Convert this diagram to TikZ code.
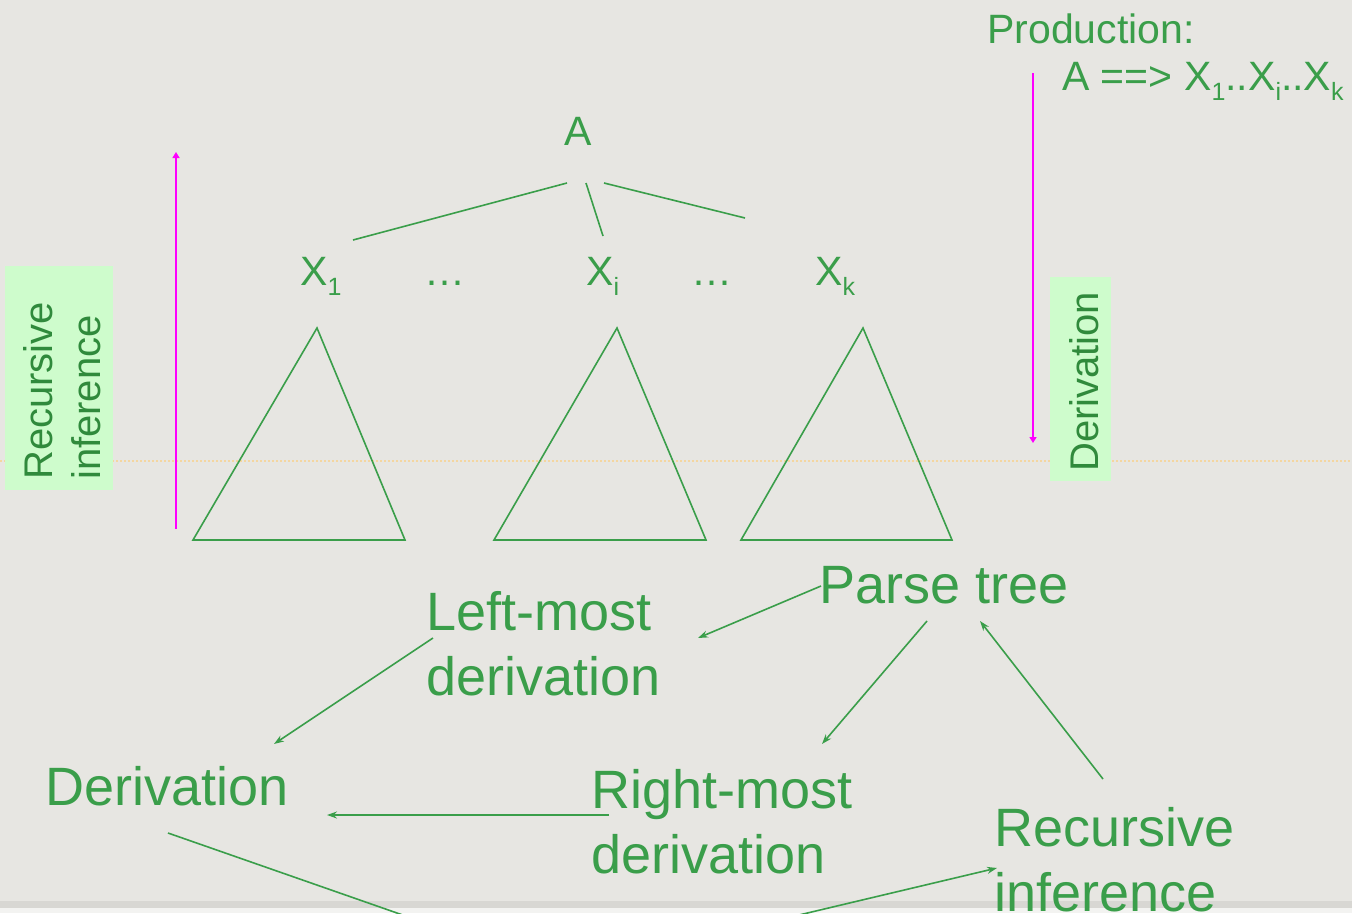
\documentclass[tikz,border=0pt]{standalone}
\usepackage{fontspec}
\setmainfont{Liberation Sans}
\usetikzlibrary{arrows.meta}

\definecolor{slidebg}{RGB}{231,230,226}
\definecolor{leaf}{RGB}{58,158,74}
\definecolor{boxfill}{RGB}{206,252,204}
\definecolor{boxtext}{RGB}{48,138,60}
\definecolor{pinkline}{RGB}{255,0,255}
\definecolor{guideline}{RGB}{244,214,160}
\definecolor{bandgray}{RGB}{216,215,211}
\definecolor{bandlight}{RGB}{243,243,241}

% lowered index such as the 1 in X_1
\newcommand\lowidx[1]{\raisebox{-0.25em}{\fontsize{25}{25}\selectfont #1}}
% two lines, the node baseline being that of the first one
\newcommand\twolines[2]{\vtop{\hbox{#1}\hbox{#2}}}

\tikzset{
  lbl/.style={inner sep=0pt, anchor=base west, text=leaf},
  smalltxt/.style={font=\fontsize{41}{48}\selectfont},
  bigtxt/.style={font=\fontsize{54}{65}\selectfont},
  edge/.style={draw=leaf, line width=1.6pt},
  arr/.style={edge, -{Stealth[length=10pt,width=7pt]}},
  magarr/.style={draw=pinkline, line width=2.4pt, -{Triangle[length=6pt,width=7pt]}},
  sidetxt/.style={inner sep=0pt, anchor=base west, rotate=90, text=boxtext,
                  font=\fontsize{40}{48}\selectfont},
  tri/.style={draw=leaf, line width=1.6pt, line join=miter},
}

\begin{document}
\begin{tikzpicture}[x=1pt,y=-1pt]
\useasboundingbox (0,0) rectangle (1352,913);
\clip (0,0) rectangle (1352,913);

% slide background
\fill[slidebg] (0,0) rectangle (1352,913);
\fill[bandgray] (0,901) rectangle (1352,908);
\fill[bandlight] (0,908) rectangle (1352,913);
\draw[guideline, line width=1.2pt, dash pattern=on 1.5pt off 2.5pt] (0,461) -- (1352,461);

% production rule
\node[lbl, smalltxt] (prod) at (987,43) {Production:};
\node[lbl, smalltxt] (rule) at (1062,90) {A ==> X\lowidx{1}..X\lowidx{i}..X\lowidx{k}};

% tree root and children
\node[lbl, smalltxt, anchor=base] (A) at (578,145) {A};
\node[lbl, smalltxt] (x1) at (300,285) {X\lowidx{1}};
\node[lbl, smalltxt, anchor=base] (dotsL) at (445,285) {…};
\node[lbl, smalltxt] (xi) at (586,285) {X\lowidx{i}};
\node[lbl, smalltxt, anchor=base] (dotsR) at (712,285) {…};
\node[lbl, smalltxt] (xk) at (815,285) {X\lowidx{k}};

\coordinate (rootL) at (567,183);
\coordinate (rootM) at (586,183);
\coordinate (rootR) at (604,183);
\coordinate (toX1) at (353,240);
\coordinate (toXi) at (603,236);
\coordinate (toXk) at (745,218);
\draw[edge] (rootL) -- (toX1);
\draw[edge] (rootM) -- (toXi);
\draw[edge] (rootR) -- (toXk);

% subtrees
\draw[tri] (317,328) -- (405,540) -- (193,540) -- cycle;
\draw[tri] (617,328) -- (706,540) -- (494,540) -- cycle;
\draw[tri] (863,328) -- (952,540) -- (741,540) -- cycle;

% direction markers
\fill[boxfill] (5,266) rectangle (113,490);
\node[sidetxt] (recside) at (52,480) {\twolines{Recursive}{inference}};
\coordinate (upfoot) at (176,529);
\coordinate (uphead) at (176,152);
\draw[magarr] (upfoot) -- (uphead);

\fill[boxfill] (1050,277) rectangle (1111,481);
\node[sidetxt] (derside) at (1098,472) {Derivation};
\coordinate (downtop) at (1033,73);
\coordinate (downhead) at (1033,443);
\draw[magarr] (downtop) -- (downhead);

% relations between the notions
\node[lbl, bigtxt] (parse) at (819,603) {Parse tree};
\node[lbl, bigtxt] (lmost) at (426,630) {\twolines{Left-most}{derivation}};
\node[lbl, bigtxt] (deriv) at (45,805) {Derivation};
\node[lbl, bigtxt] (rmost) at (591,808) {\twolines{Right-most}{derivation}};
\node[lbl, bigtxt] (recinf) at (994,846) {\twolines{Recursive}{inference}};

\coordinate (pt-out1) at (821,586);
\coordinate (lm-in) at (698,638);
\coordinate (pt-out2) at (927,621);
\coordinate (rm-in) at (822,744);
\coordinate (ri-out) at (1103,779);
\coordinate (pt-in) at (980,621);
\coordinate (lm-out) at (433,638);
\coordinate (dv-in1) at (274,744);
\coordinate (rm-out) at (609,815);
\coordinate (dv-in2) at (327,815);
\coordinate (dv-out) at (168,833);
\coordinate (below) at (563,971);
\coordinate (ri-in) at (997,868);

\draw[arr] (pt-out1) -- (lm-in);
\draw[arr] (pt-out2) -- (rm-in);
\draw[arr] (ri-out) -- (pt-in);
\draw[arr] (lm-out) -- (dv-in1);
\draw[arr] (rm-out) -- (dv-in2);
\draw[arr] (dv-out) -- (below) -- (ri-in);
\end{tikzpicture}
\end{document}
